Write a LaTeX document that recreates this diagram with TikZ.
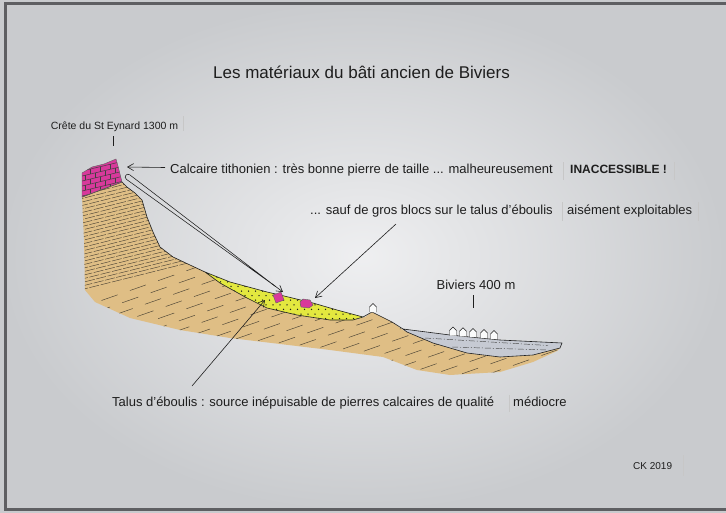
\documentclass[tikz,border=0pt]{standalone}
\usepackage{fontspec}
\setmainfont{Liberation Sans}
\usetikzlibrary{arrows.meta,calc}
\definecolor{paper}{HTML}{E1E2E5}
\definecolor{paperdark}{HTML}{C9CBCE}
\definecolor{frame}{HTML}{5E5F62}
\definecolor{ink}{HTML}{1E1E1E}
\definecolor{tan}{HTML}{DFBE85}
\definecolor{rock}{HTML}{D8399B}
\definecolor{scree}{HTML}{E3E83F}
\definecolor{alluvium}{HTML}{C6CAD3}
\definecolor{bedline}{HTML}{4A4234}
\begin{document}
\begin{tikzpicture}[x=1pt,y=-1pt,
  label/.style={font=\fontsize{13}{15}\selectfont, text=ink, inner sep=0pt, anchor=base west},
  small/.style={label, font=\fontsize{10.5}{12}\selectfont},
  outline/.style={draw=ink, line width=0.6pt, line join=round},
  bed/.style={draw=bedline, line width=0.45pt},
  pointer/.style={draw=ink, line width=0.6pt, -{Straight Barb[length=6pt,width=7pt]}},
  tick/.style={draw=ink, line width=0.7pt},
  seam/.style={draw=black!22, line width=0.4pt},
  house/.style={draw=ink, line width=0.45pt, fill=white!85!paper}]

\useasboundingbox (0,0) rectangle (726,512);
% sheet of paper
\shade[inner color=paper!55!white, outer color=paperdark] (0,0) rectangle (726,512);
\draw[frame, line width=3pt] (726,3) -- (5,3) -- (5,509) -- (726,509);

% ---------- regions ----------
\def\tanregion{(82,197) -- (122,182) -- (127,187) -- (135,193) -- (142,200) -- (147,217)
  -- (153,232) -- (160,247) -- (173,257) -- (190,265) -- (205,272) -- (220,283) -- (247,298)
  -- (267,308) -- (297,315) -- (330,320) -- (353,320) -- (365,317) -- (372,312) -- (380,316)
  -- (392,322) -- (403,330) -- (407,332) -- (433,343) -- (467,353) -- (500,357) -- (533,355)
  -- (560,348) -- (557,351) -- (533,362) -- (500,372) -- (450,375) -- (417,370) -- (383,357)
  -- (330,350) -- (280,344) -- (230,338) -- (180,330) -- (130,318) -- (95,302) -- (85,290)
  -- (84,240) -- cycle}
\def\screeregion{(205,272) -- (230,282) -- (267,292) -- (280,295) -- (313,303) -- (337,310)
  -- (363,317) -- (353,320) -- (330,320) -- (297,315) -- (267,308) -- (247,298) -- (220,283) -- cycle}
\def\alluvregion{(403,329) -- (450,335) -- (500,340) -- (562,343) -- (560,348) -- (533,355)
  -- (500,357) -- (467,353) -- (433,343) -- (407,332) -- cycle}

% limestone slope
\fill[tan] \tanregion;
\begin{scope}
  \clip \tanregion;
  % thin, dense beds of the cliff
  \begin{scope}
    \clip (60,170) -- (220,170) -- (220,262) -- (200,264) -- (90,296) -- (60,296) -- cycle;
    \foreach \k in {0,...,34} {
      \pgfmathsetmacro{\yy}{176+3.5*\k}
      \pgfmathsetmacro{\ph}{mod(\k,3)*4.5}
      \draw[bed, dash pattern=on 10pt off 1.6pt, dash phase=\ph pt] (60,\yy) -- (230,\yy-42.5);
    }
  \end{scope}
  % thicker beds lower down
  \begin{scope}
    \clip (60,297) -- (90,297) -- (200,265) -- (215,240) -- (600,240) -- (600,400) -- (60,400) -- cycle;
    \foreach \k in {0,...,30} {
      \pgfmathsetmacro{\yy}{258+9.5*\k}
      \pgfmathsetmacro{\ph}{mod(\k,4)*8}
      \draw[bed, dash pattern=on 17pt off 13pt, dash phase=\ph pt] (60,\yy) -- (600,\yy-189);
    }
  \end{scope}
\end{scope}

% scree cone
\fill[scree] \screeregion;
\begin{scope}
  \clip \screeregion;
  \foreach \i in {0,...,24} {
    \foreach \j in {0,...,11} {
      \pgfmathsetmacro{\xx}{203+7*\i+mod(\j,2)*3.5}
      \fill[ink] (\xx,{268+4.6*\j}) circle (0.75pt);
    }
  }
\end{scope}
\draw[outline] \screeregion;

% alluvial plain
\fill[alluvium] \alluvregion;
\draw[outline] \alluvregion;
\draw[draw=ink!80, line width=0.45pt, dash pattern=on 6pt off 2pt on 1pt off 2pt] (425,338) -- (548,345.5);
\draw[draw=ink!80, line width=0.45pt, dash pattern=on 6pt off 2pt on 1pt off 2pt] (452,347) -- (548,350);

% ground surface
\draw[outline] (82,197) -- (122,182) -- (127,187) -- (135,193) -- (142,200) -- (147,217)
  -- (153,232) -- (160,247) -- (173,257) -- (190,265) -- (205,272);
\draw[outline] (363,317) -- (372,312) -- (380,316) -- (392,322) -- (403,329);

% Tithonian limestone cap
\def\capregion{(82,173) -- (92,167) -- (104,164) -- (116,159) -- (118,166) -- (122,182) -- (100,190) -- (82,197) -- cycle}
\fill[rock] \capregion;
\begin{scope}
  \clip \capregion;
  \foreach \k in {0,...,6} {
    \pgfmathsetmacro{\yy}{168+5*\k}
    \draw[draw=ink!85, line width=0.5pt] (78,\yy+4) -- (128,\yy-8);
  }
  \foreach \k in {0,...,6} {
    \foreach \i in {0,...,4} {
      \pgfmathsetmacro{\xx}{80+10*\i+mod(\k,2)*5}
      \pgfmathsetmacro{\yy}{168+5*\k+4-(\xx-78)*0.24}
      \draw[draw=ink!85, line width=0.5pt] (\xx,\yy) -- (\xx,\yy+5);
    }
  }
\end{scope}
\draw[draw=ink!70, line width=0.4pt] \capregion;

% large fallen blocks
\fill[rock, draw=ink!70, line width=0.4pt] (273,295) -- (281,292) -- (284,300) -- (276,303) -- cycle;
\fill[rock, draw=ink!70, line width=0.4pt] (300,302) -- (303,299) -- (310,300) -- (313,305) -- (309,308) -- (301,307) -- cycle;

% houses
\foreach \hx/\hy in {373/312, 453/335.5, 463/336.3, 473/337, 484/338, 494/339} {
  \draw[house] (\hx-3.5,\hy) -- (\hx-3.5,\hy-5) -- (\hx,\hy-8.5) -- (\hx+3.5,\hy-5) -- (\hx+3.5,\hy);
}

% ---------- texts ----------
\node[label, font=\fontsize{17}{20}\selectfont] (title) at (213,78) {Les matériaux du bâti ancien de Biviers};
\node[small, anchor=base] (crest) at (114.5,129) {Crête du St Eynard 1300 m};
\node[label] (tithonian) at (170,173.5) {Calcaire tithonien : très bonne pierre de taille ... malheureusement};
\node[label, font=\fontsize{12}{14}\selectfont\bfseries] (inacc) at (570,173.5) {INACCESSIBLE !};
\node[label] (blocks) at (310,214) {... sauf de gros blocs sur le talus d’éboulis};
\node[label] (exploit) at (567,214) {aisément exploitables};
\node[label, anchor=base] (biviers) at (476,289) {Biviers 400 m};
\node[label] (talus) at (112,406.5) {Talus d’éboulis : source inépuisable de pierres calcaires de qualité};
\node[label] (medio) at (513,406.5) {médiocre};
\node[small, font=\fontsize{10}{12}\selectfont] (ck) at (633,469.5) {CK 2019};

% edges of the pasted paper strips
\draw[seam] (183,116) -- (183,131);
\draw[seam] (563,162) -- (563,180);
\draw[seam] (674,162) -- (674,180);
\draw[seam] (562,202) -- (562,221);
\draw[seam] (698,202) -- (698,221);
\draw[seam] (509,395) -- (509,412);
\draw[seam] (683,455) -- (683,476);

% ---------- ticks and arrows ----------
\coordinate (crestfoot) at (113,146);
\draw[tick] (113,136) -- (crestfoot);
\coordinate (bivfoot) at (473,308);
\draw[tick] (473,295) -- (bivfoot);

\coordinate (captarget) at (127,167);
\draw[pointer] (165,167.5) -- (captarget);

\coordinate (blocktarget) at (315,298);
\draw[pointer] (396,224) -- (blocktarget);

\coordinate (screetarget) at (265,300);
\draw[pointer] (192,386) -- (screetarget);

% hollow fall path from the cap to the scree
\coordinate (dtop) at (128,177);
\coordinate (dtip) at (283,292);
\coordinate (p1) at ($(dtop)!2.8pt!90:(dtip)$);
\coordinate (p2) at ($(dtop)!2.8pt!-90:(dtip)$);
\coordinate (c1) at ($(p1)!-3.7pt!($(dtip)!2.8pt!-90:(dtop)$)$);
\coordinate (c2) at ($(p2)!-3.7pt!($(dtip)!2.8pt!90:(dtop)$)$);
\coordinate (dend) at ($(dtip)!9pt!(dtop)$);
\draw[draw=ink, line width=0.55pt, line join=round] (p1) -- (dend) -- (p2) .. controls (c2) and (c1) .. (p1);
\draw[pointer] ($(dtip)!14pt!(dtop)$) -- (dtip);
\end{tikzpicture}
\end{document}
